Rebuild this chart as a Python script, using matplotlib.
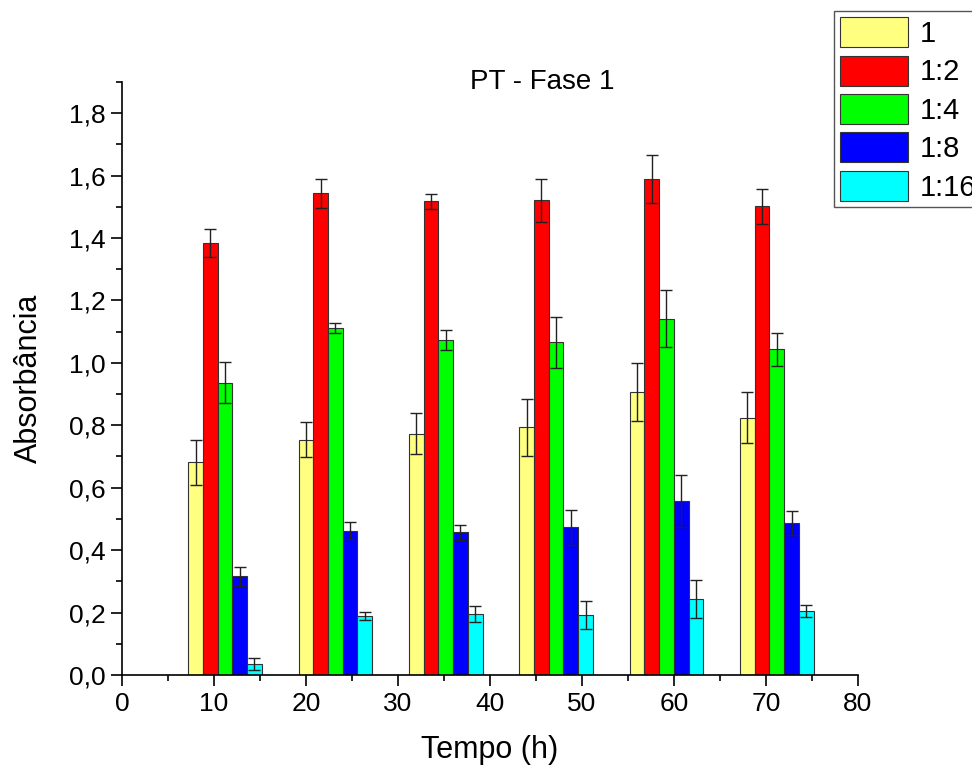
import numpy as np
import matplotlib.pyplot as plt
from matplotlib.ticker import MultipleLocator

plt.rcParams['font.family'] = ['Liberation Sans', 'DejaVu Sans']

tempo = [12, 24, 36, 48, 60, 72]
diluicoes = ["1", "1:2", "1:4", "1:8", "1:16"]
cores = ["#FFFF80", "#FF0000", "#00FF00", "#0000FF", "#00FFFF"]

abs_1 = [0.681, 0.754, 0.773, 0.793, 0.906, 0.824]
abs_1_2 = [1.384, 1.543, 1.517, 1.520, 1.588, 1.501]
abs_1_4 = [0.937, 1.111, 1.073, 1.066, 1.142, 1.043]
abs_1_8 = [0.316, 0.462, 0.457, 0.473, 0.558, 0.487]
abs_1_16 = [0.035, 0.188, 0.196, 0.192, 0.243, 0.206]

err_1 = [0.072, 0.056, 0.065, 0.092, 0.093, 0.082]
err_1_2 = [0.046, 0.046, 0.023, 0.068, 0.077, 0.056]
err_1_4 = [0.065, 0.016, 0.033, 0.082, 0.091, 0.054]
err_1_8 = [0.030, 0.027, 0.024, 0.055, 0.083, 0.040]
err_1_16 = [0.020, 0.013, 0.025, 0.045, 0.060, 0.019]

yticks = [0.0, 0.2, 0.4, 0.6, 0.8, 1.0, 1.2, 1.4, 1.6, 1.8]
ytick_labels = ["0,0", "0,2", "0,4", "0,6", "0,8", "1,0", "1,2", "1,4", "1,6", "1,8"]
xticks = [0, 10, 20, 30, 40, 50, 60, 70, 80]

valores = [abs_1, abs_1_2, abs_1_4, abs_1_8, abs_1_16]
erros = [err_1, err_1_2, err_1_4, err_1_8, err_1_16]

fig = plt.figure(figsize=(9.72, 7.65), dpi=100)
ax = fig.add_axes([0.1255, 0.1176, 0.757, 0.7754])

w = 1.6
x = np.array(tempo, dtype=float)
for i, (v, e, c, lab) in enumerate(zip(valores, erros, cores, diluicoes)):
    pos = x + (i - 2) * w - 0.8
    ax.bar(pos, v, width=w, color=c, edgecolor="#333333", linewidth=0.8, label=lab)
    ax.errorbar(pos, v, yerr=e, fmt="none", ecolor="#222222", elinewidth=1.0,
                capsize=4.5, capthick=1.0)

ax.set_xlim(0, 80)
ax.set_ylim(0, 1.9)
ax.set_xticks(xticks)
ax.set_xticklabels([str(t) for t in xticks], fontsize=19)
ax.set_yticks(yticks)
ax.set_yticklabels(ytick_labels, fontsize=19)
ax.xaxis.set_minor_locator(MultipleLocator(5))
ax.yaxis.set_minor_locator(MultipleLocator(0.1))
ax.tick_params(which="major", direction="out", length=8, width=1.2, pad=4)
ax.tick_params(which="minor", direction="out", length=4.5, width=1.2)
for s in ["top", "right"]:
    ax.spines[s].set_visible(False)
for s in ["left", "bottom"]:
    ax.spines[s].set_linewidth(1.2)

ax.set_xlabel("Tempo (h)", fontsize=22, labelpad=14)
ax.set_ylabel("Absorbância", fontsize=22, labelpad=18)
fig.text(0.558, 0.893, "PT - Fase 1", fontsize=20, ha="center", va="center")

leg = fig.legend(loc="upper left", bbox_to_anchor=(0.858, 0.985), fontsize=21,
                 handlelength=2.35, handleheight=1.2, labelspacing=0.26,
                 handletextpad=0.38, borderpad=0.2, borderaxespad=0,
                 fancybox=False, framealpha=1)
leg.get_frame().set_edgecolor("#555555")
leg.get_frame().set_linewidth(1.0)
for p in leg.get_patches():
    p.set_edgecolor("#333333")

fig.savefig("out.png", dpi=100)
